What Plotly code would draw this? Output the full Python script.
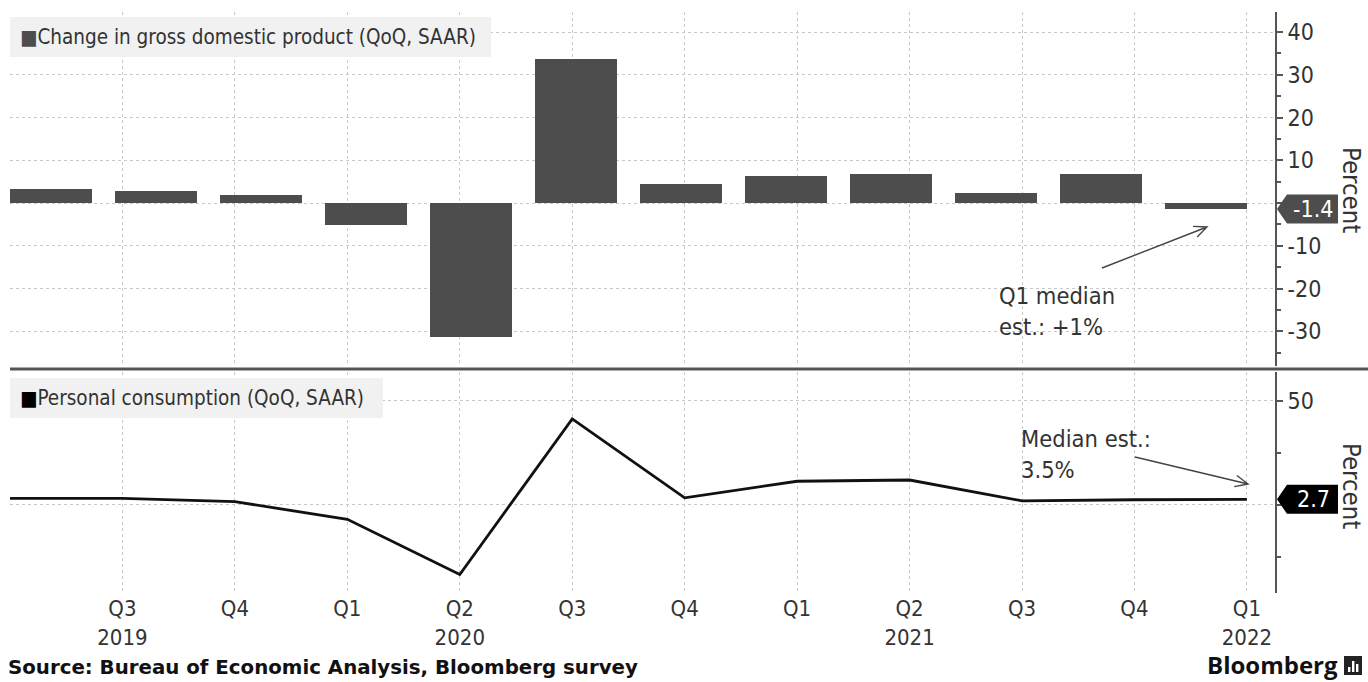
import numpy as np
import plotly.graph_objects as go

# ---- data ----
quarters = ["Q2 2019", "Q3 2019", "Q4 2019", "Q1 2020", "Q2 2020", "Q3 2020",
            "Q4 2020", "Q1 2021", "Q2 2021", "Q3 2021", "Q4 2021", "Q1 2022"]
gdp_change = [3.2, 2.8, 1.9, -5.1, -31.2, 33.8, 4.5, 6.3, 6.7, 2.3, 6.9, -1.4]
personal_consumption = [3.2, 3.2, 1.6, -6.9, -33.4, 41.4, 3.4, 11.4, 12.0, 2.0, 2.5, 2.7]
x_tick_labels = ["", "Q3<br>2019", "Q4", "Q1", "Q2<br>2020", "Q3", "Q4",
                 "Q1", "Q2<br>2021", "Q3", "Q4", "Q1<br>2022"]
gdp_ticks = [-30, -20, -10, 0, 10, 20, 30, 40]
gdp_tick_text = ["-30", "-20", "-10", "", "10", "20", "30", "40"]
pce_ticks = [0, 50]
pce_tick_text = ["", "50"]

# ---- page geometry ----
W, H = 1368, 682
ML, MR, MT, MB = 10, 93, 12, 89
PW, PH = W - ML - MR, H - MT - MB


def px_x(px):
    return (px - ML) / PW


def px_y(py):
    return (H - MB - py) / PH


TOP_DOM = [px_y(366), px_y(12)]
BOT_DOM = [px_y(593), px_y(372)]
TOP_RANGE = [-38.1, 44.7]
BOT_RANGE = [-42.3, 63.9]
X_RANGE = [0, 11.25]

FONT = "DejaVu Sans Condensed, Liberation Sans Narrow, DejaVu Sans, sans-serif"
BAR_COLOR = "#4d4d4d"
GRID = "#c9c9c9"
AXIS = "#555555"
TEXT = "#333333"

# bars fill the span between the first and last quarter
n = len(quarters)
gap_ratio = 0.78
slot = (n - 1) / ((n - 1) + gap_ratio)
bar_w = slot * gap_ratio
bar_x = np.arange(n) * slot + bar_w / 2
line_x = np.arange(n)

fig = go.Figure()
fig.add_trace(go.Bar(x=bar_x, y=gdp_change, width=bar_w, marker_color=BAR_COLOR,
                     marker_line_width=0, xaxis="x", yaxis="y", showlegend=False))
fig.add_trace(go.Scatter(x=line_x, y=personal_consumption, mode="lines",
                         line=dict(color="#111111", width=2.8),
                         xaxis="x2", yaxis="y2", showlegend=False))

common_x = dict(range=X_RANGE, showgrid=True, gridcolor=GRID, griddash="dot",
                gridwidth=1, zeroline=False, showline=False, tickvals=list(range(n)),
                ticks="")
common_y = dict(side="right", showline=True, linecolor=AXIS, linewidth=2,
                ticks="outside", ticklen=6, tickcolor=AXIS, tickwidth=1.5,
                showgrid=True, gridcolor=GRID, griddash="dot", gridwidth=1,
                zeroline=False, tickfont=dict(family=FONT, size=23, color=TEXT))

fig.update_layout(
    width=W, height=H,
    margin=dict(l=ML, r=MR, t=MT, b=MB),
    paper_bgcolor="white", plot_bgcolor="white",
    bargap=0,
    xaxis=dict(domain=[0, 1], anchor="y", showticklabels=False, **common_x),
    yaxis=dict(domain=TOP_DOM, anchor="x", range=TOP_RANGE, tickvals=gdp_ticks,
               ticktext=gdp_tick_text,
               minor=dict(ticks="outside", ticklen=4, dtick=5, tickcolor=AXIS,
                          showgrid=False),
               **common_y),
    xaxis2=dict(domain=[0, 1], anchor="y2", ticktext=x_tick_labels,
                tickfont=dict(family=FONT, size=22, color=TEXT), **common_x),
    yaxis2=dict(domain=BOT_DOM, anchor="x2", range=BOT_RANGE, tickvals=pce_ticks,
                ticktext=pce_tick_text,
                minor=dict(ticks="outside", ticklen=4, dtick=25, tickcolor=AXIS,
                           showgrid=False),
                **common_y),
)

shapes = []
annotations = []

# panel separator
shapes.append(dict(type="line", xref="paper", yref="paper",
                   x0=px_x(10), x1=px_x(W), y0=px_y(369), y1=px_y(369),
                   line=dict(color=AXIS, width=3)))

# legend boxes
for (x0, x1, y0, y1, sq_color, label) in [
        (10, 491, 17, 57, BAR_COLOR, "Change in gross domestic product (QoQ, SAAR)"),
        (10, 383, 378, 418, "#000000", "Personal consumption (QoQ, SAAR)")]:
    shapes.append(dict(type="rect", xref="paper", yref="paper", layer="above",
                       x0=px_x(x0), x1=px_x(x1), y0=px_y(y1), y1=px_y(y0),
                       fillcolor="#f1f1f1", line=dict(width=0)))
    annotations.append(dict(xref="paper", yref="paper", x=px_x(x0 + 8),
                            y=px_y((y0 + y1) / 2), xanchor="left", yanchor="middle",
                            showarrow=False,
                            text=f"<span style='color:{sq_color}'>■</span>{label}",
                            font=dict(family=FONT, size=20.5, color=TEXT)))


# value tags on the right axis
def value_tag(value, yref, dom, rng, fill):
    units_per_px = (rng[1] - rng[0]) / ((dom[1] - dom[0]) * PH)
    half = 14.5 * units_per_px
    tip, body, right = px_x(1277), px_x(1287), px_x(1338)
    path = (f"M {tip} {value} L {body} {value + half} L {right} {value + half} "
            f"L {right} {value - half} L {body} {value - half} Z")
    shapes.append(dict(type="path", xref="paper", yref=yref, path=path,
                       fillcolor=fill, line=dict(width=0), layer="above"))
    annotations.append(dict(xref="paper", yref=yref, x=px_x(1313), y=value,
                            text=f"{value:g}", showarrow=False, xanchor="center",
                            yanchor="middle",
                            font=dict(family=FONT, size=23, color="white")))


value_tag(gdp_change[-1], "y", TOP_DOM, TOP_RANGE, BAR_COLOR)
value_tag(personal_consumption[-1], "y2", BOT_DOM, BOT_RANGE, "#000000")

# axis titles
for cy in (190, 486):
    annotations.append(dict(xref="paper", yref="paper", x=px_x(1352), y=px_y(cy),
                            text="Percent", textangle=90, showarrow=False,
                            xanchor="center", yanchor="middle",
                            font=dict(family=FONT, size=25.5, color=TEXT)))


# callouts with open arrowheads
def open_arrow(x0, y0, x1, y1, barb=14, spread=np.radians(24)):
    ang = np.arctan2(y0 - y1, x0 - x1)
    pts = []
    for s in (-spread, spread):
        pts.append((x1 + barb * np.cos(ang + s), y1 + barb * np.sin(ang + s)))
    path = (f"M {px_x(x0)} {px_y(y0)} L {px_x(x1)} {px_y(y1)} "
            f"M {px_x(pts[0][0])} {px_y(pts[0][1])} L {px_x(x1)} {px_y(y1)} "
            f"L {px_x(pts[1][0])} {px_y(pts[1][1])}")
    shapes.append(dict(type="path", xref="paper", yref="paper", path=path,
                       line=dict(color="#444444", width=1.4)))


open_arrow(1102, 268, 1207, 227)
open_arrow(1135, 457, 1248, 484)

annotations.append(dict(xref="paper", yref="paper", x=px_x(997), y=px_y(311),
                        text="Q1 median<br>est.: +1%", align="left", showarrow=False,
                        xanchor="left", yanchor="middle",
                        font=dict(family=FONT, size=23.5, color=TEXT)))
annotations.append(dict(xref="paper", yref="paper", x=px_x(1019), y=px_y(454),
                        text="Median est.:<br>3.5%", align="left", showarrow=False,
                        xanchor="left", yanchor="middle",
                        font=dict(family=FONT, size=23.5, color=TEXT)))

# footer
annotations.append(dict(xref="paper", yref="paper", x=px_x(6), y=px_y(667),
                        text="<b>Source: Bureau of Economic Analysis, Bloomberg survey</b>",
                        showarrow=False, xanchor="left", yanchor="middle",
                        font=dict(family="DejaVu Sans", size=19.8, color="#111111")))
annotations.append(dict(xref="paper", yref="paper", x=px_x(1340), y=px_y(665),
                        text="<b>Bloomberg</b>", showarrow=False, xanchor="right",
                        yanchor="middle",
                        font=dict(family="Open Sans, Lato, sans-serif", size=24,
                                  color="#111111")))
shapes.append(dict(type="rect", xref="paper", yref="paper",
                   x0=px_x(1344), x1=px_x(1362), y0=px_y(675), y1=px_y(656),
                   fillcolor="#222222", line=dict(width=0)))
for bx, top in ((1348, 667), (1352, 661), (1356, 664)):
    shapes.append(dict(type="rect", xref="paper", yref="paper",
                       x0=px_x(bx), x1=px_x(bx + 2.4), y0=px_y(672), y1=px_y(top),
                       fillcolor="white", line=dict(width=0)))

fig.update_layout(shapes=shapes, annotations=annotations)
fig.write_html("out.html")
